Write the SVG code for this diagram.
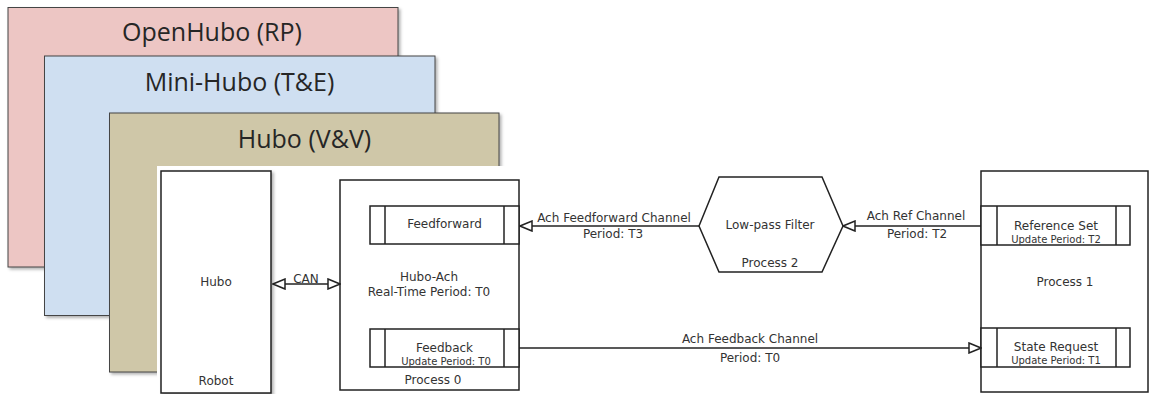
<svg xmlns="http://www.w3.org/2000/svg" width="1149" height="394" viewBox="0 0 1149 394">
<style>
.lbl{font-family:"Open Sans","Noto Sans",sans-serif;font-size:25px;fill:#262626;text-anchor:middle}
.t{font-family:"DejaVu Sans",sans-serif;font-size:12px;fill:#333;text-anchor:middle}
.s{font-family:"DejaVu Sans",sans-serif;font-size:10px;fill:#333;text-anchor:middle}
.layer{stroke:#444;stroke-width:1}
.box{fill:#fff;stroke:#222;stroke-width:1.5}
.con{stroke:#222;stroke-width:1.5;fill:none}
</style>
<defs>
<filter id="sh" x="-5%" y="-5%" width="115%" height="115%">
<feDropShadow dx="2" dy="2" stdDeviation="1.5" flood-color="#000" flood-opacity="0.3"/>
</filter>
<marker id="arr" viewBox="0 0 14 12" markerWidth="14" markerHeight="12" refX="13" refY="6" orient="auto-start-reverse" markerUnits="userSpaceOnUse">
<path d="M1,1 L13,6 L1,11 Z" fill="#fff" stroke="#222" stroke-width="1.5"/>
</marker>
</defs>
<rect width="1149" height="394" fill="#fff"/>
<g id="layer-openhubo">
<rect class="layer" x="8" y="7.5" width="390" height="259.5" fill="#EDC6C4" filter="url(#sh)"/>
<text class="lbl" x="212" y="41">OpenHubo (RP)</text>
</g>
<g id="layer-minihubo">
<rect class="layer" x="44.5" y="56" width="390.5" height="259.5" fill="#CFDFF1" filter="url(#sh)"/>
<text class="lbl" x="239.5" y="91">Mini-Hubo (T&amp;E)</text>
</g>
<g id="layer-hubo">
<rect class="layer" x="109.5" y="113" width="389.5" height="259" fill="#CFC7A8" filter="url(#sh)"/>
<text class="lbl" x="304.5" y="148">Hubo (V&amp;V)</text>
</g>
<rect x="157" y="166" width="992" height="228" fill="#fff"/>
<g id="robot">
<rect class="box" x="161" y="171" width="110" height="222" filter="url(#sh)"/>
<text class="t" x="216" y="286">Hubo</text>
<text class="t" x="216" y="385">Robot</text>
</g>
<g id="process0">
<rect class="box" x="340" y="180" width="179" height="210"/>
<text class="t" x="429" y="281">Hubo-Ach</text>
<text class="t" x="429" y="296">Real-Time Period: T0</text>
<text class="t" x="433" y="384">Process 0</text>
</g>
<g id="feedforward">
<rect class="box" x="370" y="206" width="149" height="38"/>
<line class="con" x1="385" y1="206" x2="385" y2="244"/>
<line class="con" x1="504" y1="206" x2="504" y2="244"/>
<text class="t" x="444.5" y="228">Feedforward</text>
</g>
<g id="feedback">
<rect class="box" x="370" y="329" width="149" height="38"/>
<line class="con" x1="385" y1="329" x2="385" y2="367"/>
<line class="con" x1="504" y1="329" x2="504" y2="367"/>
<text class="t" x="444.5" y="352">Feedback</text>
<text class="s" x="446" y="364.5">Update Period: T0</text>
</g>
<g id="process2">
<polygon class="box" points="699,226 719,177 822,177 843,226 822,272 719,272"/>
<text class="t" x="770" y="229">Low-pass Filter</text>
<text class="t" x="770" y="267">Process 2</text>
</g>
<g id="process1">
<rect class="box" x="981" y="171" width="167" height="221"/>
<text class="t" x="1065" y="286">Process 1</text>
</g>
<g id="reference-set">
<rect class="box" x="981" y="206" width="149" height="39"/>
<line class="con" x1="997" y1="206" x2="997" y2="245"/>
<line class="con" x1="1116" y1="206" x2="1116" y2="245"/>
<text class="t" x="1056" y="230">Reference Set</text>
<text class="s" x="1056" y="242.5">Update Period: T2</text>
</g>
<g id="state-request">
<rect class="box" x="981" y="328" width="149" height="39"/>
<line class="con" x1="997" y1="328" x2="997" y2="367"/>
<line class="con" x1="1116" y1="328" x2="1116" y2="367"/>
<text class="t" x="1056" y="351">State Request</text>
<text class="s" x="1056" y="363.5">Update Period: T1</text>
</g>
<g id="connectors">
<line class="con" x1="273" y1="284" x2="340" y2="284" marker-start="url(#arr)" marker-end="url(#arr)"/>
<text class="t" x="306" y="283">CAN</text>
<line class="con" x1="699" y1="226" x2="520" y2="226" marker-end="url(#arr)"/>
<text class="t" x="614" y="222">Ach Feedforward Channel</text>
<text class="t" x="613" y="238">Period: T3</text>
<line class="con" x1="981" y1="226" x2="843" y2="226" marker-end="url(#arr)"/>
<text class="t" x="916" y="220">Ach Ref Channel</text>
<text class="t" x="917" y="238">Period: T2</text>
<line class="con" x1="519" y1="348" x2="981" y2="348" marker-end="url(#arr)"/>
<text class="t" x="750" y="343">Ach Feedback Channel</text>
<text class="t" x="750" y="362">Period: T0</text>
</g>
</svg>
